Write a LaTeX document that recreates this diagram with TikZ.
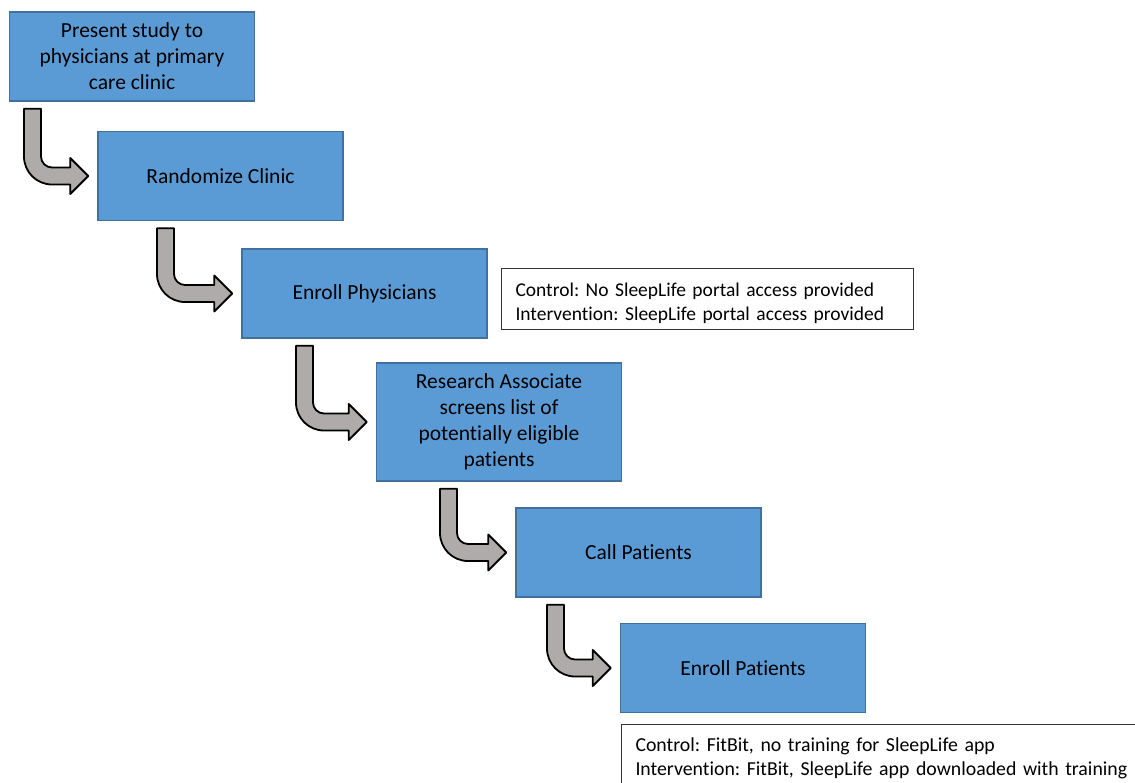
\documentclass[tikz,border=0pt]{standalone}
\usepackage{fontspec}
\setmainfont{Carlito}[Ligatures=NoCommon]
\usetikzlibrary{calc}
\definecolor{boxfill}{RGB}{91,155,213}
\definecolor{boxline}{RGB}{65,113,156}
\definecolor{arrowfill}{RGB}{175,171,171}
\frenchspacing
\tikzset{
 stepbox/.style={draw=boxline, line width=1.5pt, fill=boxfill, minimum width=245pt, minimum height=89pt, inner sep=0pt, align=center, font=\fontsize{21.5}{26}\selectfont},
 notebox/.style={draw=black!80, line width=1pt, fill=white, align=left, inner xsep=14pt, inner ysep=0pt, font=\fontsize{19.5}{24.5}\selectfont, anchor=north west},
 barrow/.style={draw=black, line width=1.8pt, fill=arrowfill, line join=round}
}
\newcommand\bentarrow[3]{%
 \draw[barrow] let \p1=(#1.south), \p2=(#2.west) in
  (#3pt,\y1-7pt) -- (#3pt+17pt,\y1-7pt) -- (#3pt+17pt,\y2+19.5pt)
  .. controls (#3pt+17pt,\y2+13.43pt) and (#3pt+21.93pt,\y2+8.5pt) .. (#3pt+28pt,\y2+8.5pt)
  -- (\x2-27pt,\y2+8.5pt) -- (\x2-27pt,\y2+18pt) -- (\x2-9pt,\y2) -- (\x2-27pt,\y2-18pt)
  -- (\x2-27pt,\y2-8.5pt) -- (#3pt+28pt,\y2-8.5pt)
  .. controls (#3pt+12.54pt,\y2-8.5pt) and (#3pt,\y2+4.04pt) .. (#3pt,\y2+19.5pt) -- cycle;
}
\begin{document}
\begin{tikzpicture}[x=1pt,y=-1pt]
\useasboundingbox (0,0) rectangle (1135,782);
\clip (0,0) rectangle (1135,782);
\node[stepbox] (s1) at (132,56.5) {Present study to\\physicians at primary\\care clinic};
\node[stepbox] (s2) at (220.5,176) {Randomize Clinic};
\node[stepbox] (s3) at (364.5,293.5) {Enroll Physicians};
\node[stepbox, minimum height=118pt] (s4) at (499,422) {Research Associate\\screens list of\\potentially eligible\\patients};
\node[stepbox] (s5) at (638.5,552.5) {Call Patients};
\node[stepbox] (s6) at (743,668) {Enroll Patients};
\node[notebox, text width=384pt, minimum height=61pt] (n1) at (501,268) {\rule{0pt}{22pt}Control: No SleepLife portal access provided\\Intervention: SleepLife portal access provided};
\node[notebox, text width=502pt, minimum height=68pt, font=\fontsize{19.8}{24.5}\selectfont] (n2) at (621,724) {Control: FitBit, no training for SleepLife app\\Intervention: FitBit, SleepLife app downloaded with training};
\bentarrow{s1}{s2}{24}
\bentarrow{s2}{s3}{157}
\bentarrow{s3}{s4}{296}
\bentarrow{s4}{s5}{440}
\bentarrow{s5}{s6}{547}
\end{tikzpicture}
\end{document}
